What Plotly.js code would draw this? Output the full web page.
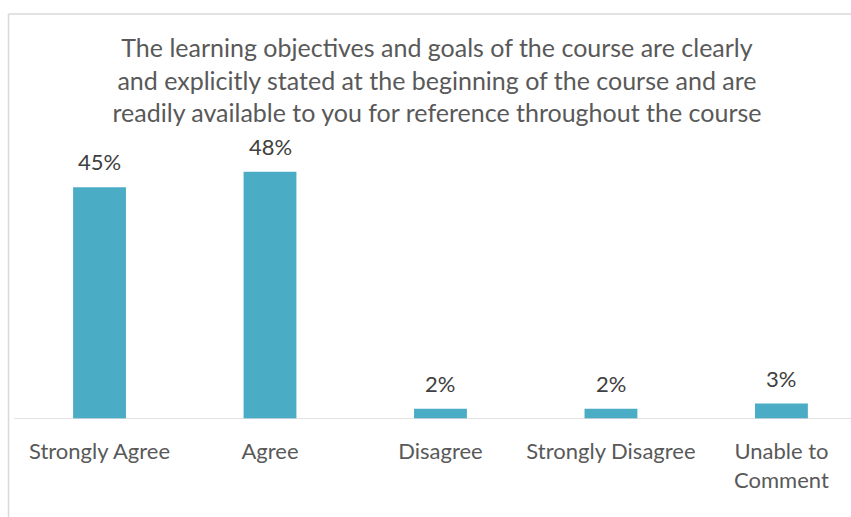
<!DOCTYPE html>
<html>
<head>
<meta charset="utf-8">
<script src="https://cdn.plot.ly/plotly-3.0.1.min.js"></script>
<style>
  html, body { margin: 0; padding: 0; background: #ffffff; }
  #chart { width: 851px; height: 517px; }
</style>
</head>
<body>
<div id="chart"></div>
<script>
// Survey responses for the course-objectives statement
const categories = ["Strongly Agree", "Agree", "Disagree", "Strongly Disagree", "Unable to<br>Comment"];
const shares = [45, 48, 2, 2, 3];
const shareLabels = ["45%", "48%", "2%", "2%", "3%"];

const FONT = "Lato, 'Open Sans', sans-serif";
const GRID = "#d9d9d9";

const bars = {
  type: "bar",
  x: categories,
  y: shares,
  width: 0.31,
  marker: { color: "#4BACC6", line: { width: 0 } },
  hoverinfo: "x+y",
  showlegend: false
};

// value labels sit just above each bar
const valueNotes = categories.map((c, i) => ({
  x: c,
  y: shares[i],
  xref: "x",
  yref: "y",
  text: shareLabels[i],
  showarrow: false,
  yanchor: "bottom",
  yshift: 10,
  font: { family: FONT, size: 22, color: "#404040" }
}));

const layout = {
  width: 851,
  height: 517,
  paper_bgcolor: "#ffffff",
  plot_bgcolor: "#ffffff",
  margin: { l: 9, r: 0, t: 162, b: 98 },
  title: {
    text: "The learning objectives and goals of the course are clearly<br>and explicitly stated at the beginning of the course and are<br>readily available to you for reference throughout the course",
    font: { family: FONT, size: 25, color: "#595959" },
    xref: "container",
    x: 0.5135,
    xanchor: "center",
    yref: "container",
    y: 0.889,
    yanchor: "middle"
  },
  xaxis: {
    type: "category",
    range: [-0.531, 4.408],
    showgrid: false,
    zeroline: false,
    showline: false,
    ticks: "",
    ticklabelstandoff: 17,
    tickfont: { family: FONT, size: 22, color: "#595959" },
    fixedrange: true
  },
  yaxis: {
    range: [0, 49.9],
    showgrid: false,
    zeroline: false,
    showline: false,
    showticklabels: false,
    ticks: "",
    fixedrange: true
  },
  annotations: valueNotes,
  shapes: [
    // category baseline
    { type: "line", xref: "paper", yref: "y", x0: 0.006, x1: 1, y0: 0, y1: 0,
      line: { color: GRID, width: 1.5 } },
    // chart frame, top edge
    { type: "line", xref: "paper", yref: "paper", x0: -0.0006, x1: 1.01, y0: 1.576, y1: 1.576,
      line: { color: GRID, width: 1.5 } },
    // chart frame, left edge
    { type: "line", xref: "paper", yref: "paper", x0: -0.0006, x1: -0.0006, y0: -0.5, y1: 1.576,
      line: { color: GRID, width: 1.5 } }
  ],
  bargap: 0.69
};

Plotly.newPlot("chart", [bars], layout, { displayModeBar: false, staticPlot: true });
</script>
</body>
</html>
